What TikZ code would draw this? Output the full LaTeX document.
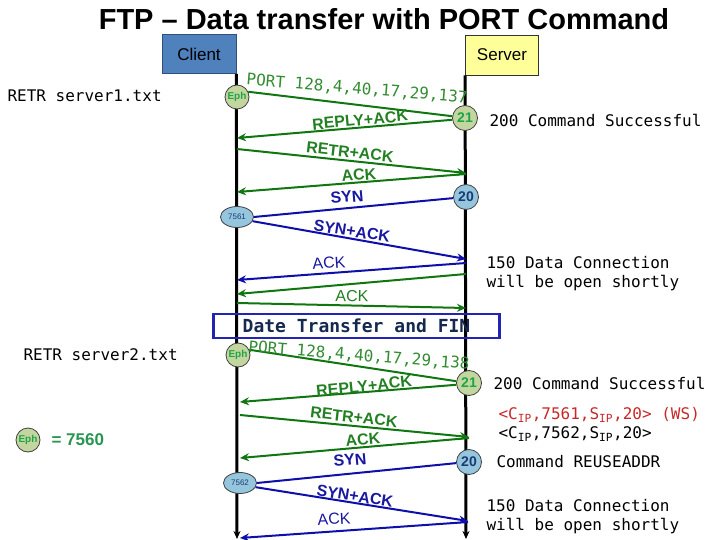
\documentclass[tikz,border=0pt]{standalone}
\usepackage{fontspec}
\setmainfont{Liberation Sans}
\setmonofont{DejaVu Sans Mono}
\usetikzlibrary{arrows.meta,shapes.geometric}
\definecolor{arrowgreen}{RGB}{16,118,16}
\definecolor{labelgreen}{RGB}{34,128,34}
\definecolor{portgreen}{RGB}{50,140,50}
\definecolor{lineblue}{RGB}{14,14,170}
\definecolor{labelblue}{RGB}{24,24,160}
\definecolor{ephfill}{RGB}{196,214,160}
\definecolor{ephtext}{RGB}{30,165,70}
\definecolor{bluefill}{RGB}{150,198,222}
\definecolor{darkbluetext}{RGB}{25,60,115}
\definecolor{clientfill}{RGB}{79,129,189}
\definecolor{clientborder}{RGB}{50,80,125}
\definecolor{serverfill}{RGB}{255,255,153}
\definecolor{finborder}{RGB}{36,36,180}
\definecolor{fintext}{RGB}{20,40,80}
\definecolor{redtext}{RGB}{200,40,40}
\definecolor{legendgreen}{RGB}{40,150,80}
\begin{document}
\begin{tikzpicture}[x=1pt,y=-1pt,
  lifeline/.style={line width=3pt,-{Stealth[length=8pt,width=7pt]}},
  garrow/.style={draw=arrowgreen,line width=2pt,-{Stealth[length=9pt,width=8pt]}},
  gline/.style={draw=arrowgreen,line width=2pt},
  barrow/.style={draw=lineblue,line width=2pt,-{Stealth[length=9pt,width=8pt]}},
  bline/.style={draw=lineblue,line width=2pt},
  ephnode/.style={circle,draw=black!75,line width=0.8pt,fill=ephfill,minimum size=24pt,inner sep=0pt,text=ephtext,font=\bfseries\fontsize{10}{10}\selectfont},
  gport/.style={circle,draw=black!75,line width=0.8pt,fill=ephfill,minimum size=25pt,inner sep=0pt,text=ephtext,font=\bfseries\fontsize{14}{14}\selectfont},
  bport/.style={circle,draw=black!75,line width=0.8pt,fill=bluefill,minimum size=25pt,inner sep=0pt,text=darkbluetext,font=\bfseries\fontsize{14}{14}\selectfont},
  epport/.style={ellipse,draw=black!75,line width=0.8pt,fill=bluefill,minimum width=33pt,minimum height=21pt,inner sep=0pt,text=darkbluetext,font=\fontsize{8}{8}\selectfont},
  glabel/.style={text=labelgreen,font=\bfseries\fontsize{16}{16}\selectfont},
  glabelthin/.style={text=labelgreen,font=\fontsize{16}{16}\selectfont},
  blabel/.style={text=labelblue,font=\bfseries\fontsize{16}{16}\selectfont},
  blabelthin/.style={text=labelblue,font=\fontsize{16}{16}\selectfont},
  portlabel/.style={text=portgreen,font=\ttfamily\fontsize{16}{16}\selectfont},
  mono/.style={anchor=west,align=left,font=\ttfamily\fontsize{16}{19}\selectfont}
]
\useasboundingbox (0,0) rectangle (720,540);

% title
\node[font=\bfseries\fontsize{29}{29}\selectfont] (title) at (384,19) {FTP – Data transfer with PORT Command};

% actors
\node[draw=clientborder,line width=0.8pt,fill=clientfill,minimum width=74pt,minimum height=39pt,font=\fontsize{17}{17}\selectfont] (client) at (199,54) {Client};
\node[draw=black!80,line width=0.8pt,fill=serverfill,minimum width=73pt,minimum height=40pt,font=\fontsize{17}{17}\selectfont] (server) at (502,55) {Server};

\coordinate (cend) at (237,539);
\coordinate (send) at (466,539);
\draw[lifeline] (client.south east) -- (cend);
\draw[lifeline] (server.south west) -- (send);

% circles
\node[ephnode] (eph1) at (237,97) {Eph};
\node[gport] (p21a) at (465,118) {21};
\node[bport] (p20a) at (466,197) {20};
\node[epport] (c7561) at (237,217) {7561};
\node[ephnode] (eph2) at (238,355) {Eph};
\node[gport] (p21b) at (469,383) {21};
\node[bport] (p20b) at (469,462) {20};
\node[epport] (c7562) at (240,483) {7562};
\node[ephnode] (ephL) at (28,440) {Eph};

% block 1 connector points
\coordinate (r1) at (237,138);
\coordinate (q1) at (237,149);
\coordinate (q2) at (466,173);
\coordinate (k1) at (466,174);
\coordinate (k2) at (237,192);
\coordinate (sa) at (466,259);
\coordinate (a1) at (466,263);
\coordinate (a2) at (237,280);
\coordinate (g1) at (466,274);
\coordinate (g2) at (237,294);
\coordinate (h1) at (237,303);
\coordinate (h2) at (466,308);

\draw[gline] (eph1.25) -- (p21a.172);
\draw[garrow] (p21a.188) -- (r1);
\draw[garrow] (q1) -- (q2);
\draw[garrow] (k1) -- (k2);
\draw[bline] (p20a.185) -- (c7561.east);
\draw[barrow] (c7561.345) -- (sa);
\draw[barrow] (a1) -- (a2);
\draw[garrow] (g1) -- (g2);
\draw[garrow] (h1) -- (h2);

% block 1 labels
\node[portlabel,rotate=-4.7] (lp1) at (357,89) {PORT 128,4,40,17,29,137};
\node[glabel,rotate=5.5] (lr1) at (360,120) {REPLY+ACK};
\node[glabel,rotate=-6.5] (lt1) at (350,152) {RETR+ACK};
\node[glabel,rotate=4.8] (lk1) at (359,175) {ACK};
\node[blabel,rotate=5] (ls1) at (347,197) {SYN};
\node[blabel,rotate=-9] (lsa1) at (352,231) {SYN+ACK};
\node[blabelthin,rotate=4] (la1) at (329,263) {ACK};
\node[glabelthin,rotate=-1] (lg1) at (352,296) {ACK};

% FIN box
\node[draw=finborder,line width=2.5pt,minimum width=286pt,minimum height=24pt,inner sep=0pt,text=fintext,font=\ttfamily\bfseries\fontsize{18}{18}\selectfont] (fin) at (356.5,326) {Date Transfer and FIN};

% block 2 connector points
\coordinate (r2) at (240,402);
\coordinate (t1) at (240,415);
\coordinate (t2) at (469,437);
\coordinate (u1) at (469,438);
\coordinate (u2) at (240,458);
\coordinate (sb) at (468,521);
\coordinate (v1) at (468,522);
\coordinate (v2) at (240,538);

\draw[gline] (eph2.25) -- (p21b.172);
\draw[garrow] (p21b.188) -- (r2);
\draw[garrow] (t1) -- (t2);
\draw[garrow] (u1) -- (u2);
\draw[bline] (p20b.185) -- (c7562.east);
\draw[barrow] (c7562.345) -- (sb);
\draw[barrow] (v1) -- (v2);

% block 2 labels
\node[portlabel,rotate=-4.5] (lp2) at (359,356) {PORT 128,4,40,17,29,138};
\node[glabel,rotate=6] (lr2) at (364,386) {REPLY+ACK};
\node[glabel,rotate=-6.5] (lt2) at (354,417) {RETR+ACK};
\node[glabel,rotate=5] (lk2) at (363,440) {ACK};
\node[blabel,rotate=5] (ls2) at (350,460) {SYN};
\node[blabel,rotate=-9] (lsa2) at (355,496) {SYN+ACK};
\node[blabelthin,rotate=3] (la2) at (334,519) {ACK};

% side texts
\node[mono] (t1a) at (4,96) {RETR server1.txt};
\node[mono] (t1b) at (486,120) {200 Command Successful};
\node[mono] (t1c) at (483,274) {150 Data Connection\\will be open shortly};
\node[mono] (t2a) at (20,355) {RETR server2.txt};
\node[mono] (t2b) at (490,383) {200 Command Successful};
\node[mono,text=redtext] (t2c) at (495,415) {<C\textsubscript{IP},7561,S\textsubscript{IP},20> (WS)};
\node[mono] (t2d) at (495,434) {<C\textsubscript{IP},7562,S\textsubscript{IP},20>};
\node[mono] (t2e) at (493,462) {Command REUSEADDR};
\node[mono] (t2f) at (483,517) {150 Data Connection\\will be open shortly};
\node[anchor=west,text=legendgreen,font=\bfseries\fontsize{17}{17}\selectfont] (leg) at (48,440) {= 7560};
\end{tikzpicture}
\end{document}
